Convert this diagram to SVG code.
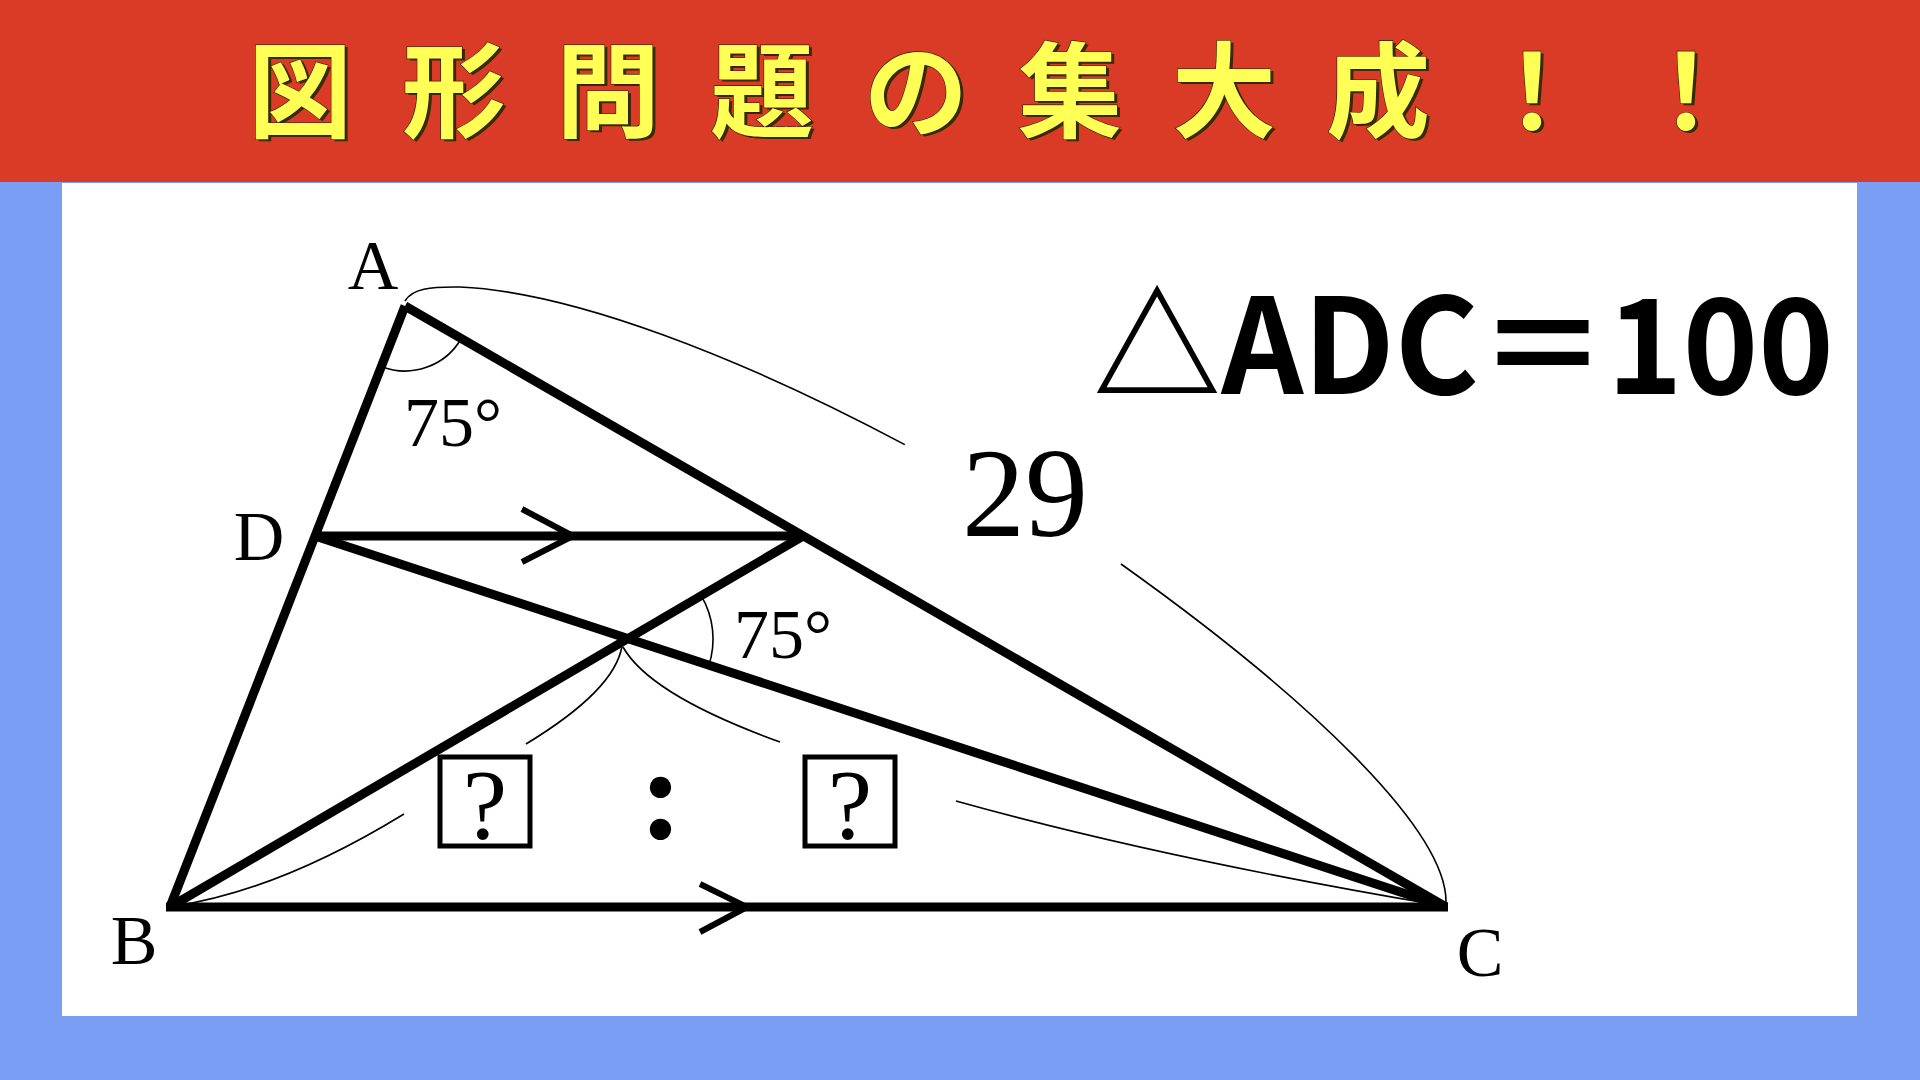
<svg xmlns="http://www.w3.org/2000/svg" width="1920" height="1080" viewBox="0 0 1920 1080">
<style>
.thick{stroke:#000;stroke-width:9;fill:none;stroke-linecap:butt;stroke-linejoin:miter}
.thin{stroke:#000;stroke-width:1.6;fill:none}
.chev{stroke:#000;stroke-width:6;fill:none;stroke-linejoin:miter}
.lbl{font-family:"Liberation Serif","Times New Roman",serif;fill:#000}
.title{font-family:"Noto Sans CJK JP",sans-serif;font-weight:bold;font-size:104px;text-anchor:middle}
.box{fill:none;stroke:#000;stroke-width:5}
</style>
<rect x="0" y="0" width="1920" height="1080" fill="#7B9EF5"/>
<rect x="62" y="183" width="1795" height="833" fill="#FFFFFF"/>
<rect x="0" y="0" width="1920" height="182" fill="#D93B26"/>
<g id="title">
<text class="title" fill="#3a2a00" x="303 457 611 765 919 1073 1227 1381 1535 1689" y="132">図形問題の集大成！！</text>
<text class="title" fill="#FFFF55" stroke="#2a2000" stroke-width="1.2" paint-order="stroke" x="300 454 608 762 916 1070 1224 1378 1532 1686" y="130">図形問題の集大成！！</text>
</g>
<g id="connectors">
<line class="thick" x1="405" y1="306" x2="170" y2="907"/>
<line class="thick" x1="405" y1="306" x2="1446" y2="907"/>
<line class="thick" x1="166" y1="907" x2="1448" y2="907"/>
<line class="thick" x1="315" y1="536" x2="803" y2="536"/>
<line class="thick" x1="315" y1="536" x2="1446" y2="907"/>
<line class="thick" x1="170" y1="907" x2="803" y2="536"/>
<polyline class="chev" points="522,509 573,536 522,562"/>
<polyline class="chev" points="700,884 747,907 700,932"/>
<path class="thin" d="M381.3,366.5 A65,65 0 0 0 461.3,338.5"/>
<path class="thin" d="M701.3,595.9 A85,85 0 0 1 708.8,665.5"/>
<path class="thin" d="M405,301 C412,289 430,286.5 460,287 C572.5,291.9 739.8,356.8 904.8,444.6"/>
<path class="thin" d="M1121,564 C1305,695 1447.8,829.7 1446,903"/>
<path class="thin" d="M175,906 Q280,890 404,814"/>
<path class="thin" d="M622,646 Q615,690 526,744"/>
<path class="thin" d="M623,647 Q650,695 780,742"/>
<path class="thin" d="M956,801 Q1160,858 1438,905"/>
</g>
<g id="node-A"><text class="lbl" x="373" y="289" font-size="70" text-anchor="middle">A</text></g>
<g id="node-D"><text class="lbl" x="259" y="560" font-size="70" text-anchor="middle">D</text></g>
<g id="node-B"><text class="lbl" x="134" y="964" font-size="70" text-anchor="middle">B</text></g>
<g id="node-C"><text class="lbl" x="1480" y="976" font-size="70" text-anchor="middle">C</text></g>
<g id="angle-A"><text class="lbl" x="404" y="446" font-size="70">75°</text></g>
<g id="angle-F"><text class="lbl" x="734" y="658" font-size="70">75°</text></g>
<g id="len-29"><text class="lbl" x="962" y="536" font-size="126">29</text></g>
<g id="area"><text x="1093" y="394" font-family="'Noto Sans CJK JP',sans-serif" font-weight="bold" font-size="132" textLength="741" lengthAdjust="spacingAndGlyphs">△ADC＝100</text></g>
<g id="ratio">
<rect class="box" x="440" y="757" width="90" height="89"/>
<text class="lbl" x="485" y="838" font-size="100" text-anchor="middle">?</text>
<text x="661" y="838" font-family="'Liberation Serif',serif" font-weight="bold" font-size="132" text-anchor="middle">:</text>
<rect class="box" x="805" y="757" width="90" height="89"/>
<text class="lbl" x="850" y="838" font-size="100" text-anchor="middle">?</text>
</g>
</svg>
